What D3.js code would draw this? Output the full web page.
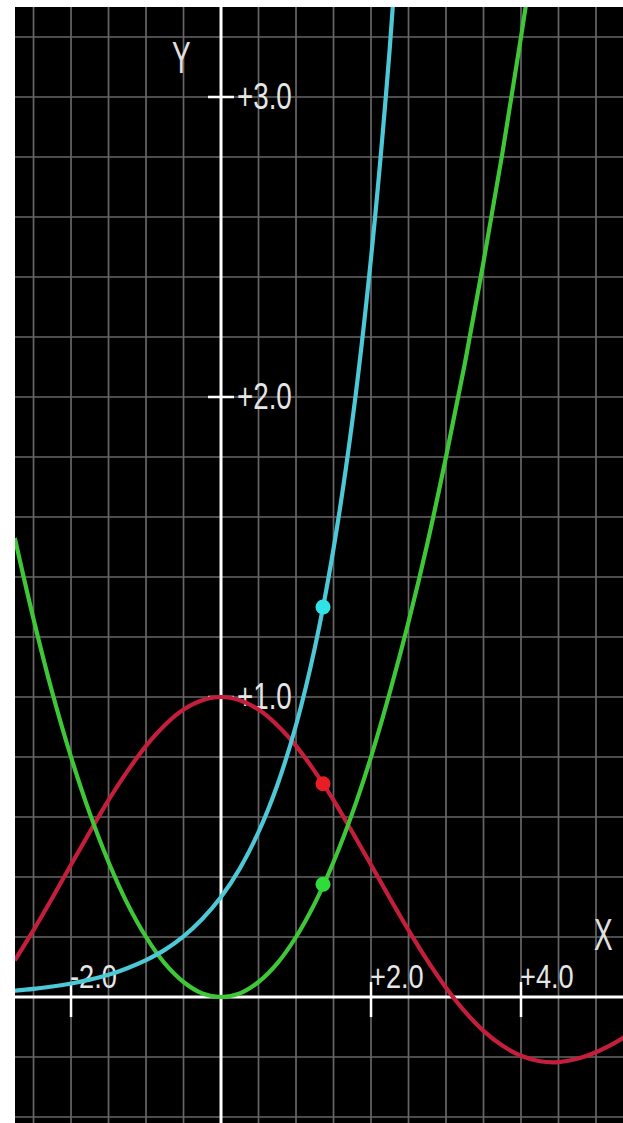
<!DOCTYPE html>
<html><head><meta charset="utf-8">
<script src="https://cdn.jsdelivr.net/npm/d3@7"></script>
<style>html,body{margin:0;padding:0;background:#fff;}svg{display:block;}</style>
</head><body>
<svg id="c" width="623" height="1123"></svg>
<script>
// ---- data ----
const redX = [-2.75,-2.5,-2.25,-2.0,-1.75,-1.5,-1.25,-1.0,-0.75,-0.5,-0.25,0,0.25,0.5,0.75,1.0,1.25,1.5,1.75,2.0,2.25,2.5,2.75,3.0,3.25,3.5,3.75,4.0,4.25,4.5,4.75,5.0,5.25,5.5];
const redY = [0.122,0.223,0.330,0.441,0.550,0.656,0.752,0.837,0.906,0.958,0.989,1.0,0.989,0.958,0.906,0.837,0.752,0.656,0.550,0.441,0.330,0.223,0.122,0.031,-0.048,-0.113,-0.162,-0.196,-0.214,-0.217,-0.206,-0.184,-0.153,-0.115];
const greenX = [-2.75,-2.5,-2.25,-2.0,-1.75,-1.5,-1.25,-1.0,-0.75,-0.5,-0.25,0,0.25,0.5,0.75,1.0,1.25,1.5,1.75,2.0,2.25,2.5,2.75,3.0,3.25,3.5,3.75,4.0,4.25];
const greenY = [1.53,1.26,1.015,0.80,0.612,0.45,0.312,0.20,0.112,0.05,0.012,0,0.012,0.05,0.112,0.20,0.312,0.45,0.612,0.80,1.015,1.25,1.51,1.80,2.11,2.45,2.81,3.20,3.61];
const cyanX = [-2.75,-2.5,-2.25,-2.0,-1.75,-1.5,-1.25,-1.0,-0.75,-0.5,-0.25,0,0.25,0.5,0.75,1.0,1.25,1.5,1.75,2.0,2.25,2.5];
const cyanY = [0.021,0.027,0.035,0.045,0.058,0.074,0.096,0.123,0.157,0.202,0.260,0.333,0.428,0.550,0.706,0.906,1.163,1.494,1.918,2.463,3.163,4.061];
const dotX = [1.36,1.36,1.36];
const dotY = [0.711,0.376,1.30];
const dotNames = ["red","green","cyan"];
const xTickVals = [-2,2,4];
const xTickLabels = ["-2.0","+2.0","+4.0"];
const yTickVals = [1,2,3];
const yTickLabels = ["+1.0","+2.0","+3.0"];

// ---- chart ----
const W = 623, H = 1123;
const L = 15, T = 7;
const svg = d3.select("#c");
const x = d3.scaleLinear().domain([-2.747, 5.36]).range([L, W]);
const y = d3.scaleLinear().domain([-0.42, 3.3]).range([H, T]);

const colors = {red:"#c41e3c", green:"#3ec838", cyan:"#4cc8d6"};
const dotColors = {red:"#e81e24", green:"#2fdc3a", cyan:"#2fe3e6"};

svg.append("defs").append("clipPath").attr("id","clip")
  .append("rect").attr("x",L).attr("y",T).attr("width",W-L).attr("height",H-T);

svg.append("rect").attr("x",L).attr("y",T).attr("width",W-L).attr("height",H-T).attr("fill","#000");

const g = svg.append("g").attr("clip-path","url(#clip)");

// grid
const gx = d3.range(-2.5, 5.01, 0.5);
const gy = d3.range(-0.4, 3.21, 0.2);
g.append("g").selectAll("line").data(gx).join("line")
  .attr("x1", d=>x(d)).attr("x2", d=>x(d)).attr("y1", T).attr("y2", H)
  .attr("stroke","#666").attr("stroke-width",1.7);
g.append("g").selectAll("line").data(gy).join("line")
  .attr("y1", d=>y(d)).attr("y2", d=>y(d)).attr("x1", L).attr("x2", W)
  .attr("stroke","#666").attr("stroke-width",1.7);

// axes
g.append("line").attr("x1",L).attr("x2",W).attr("y1",y(0)).attr("y2",y(0))
  .attr("stroke","#fff").attr("stroke-width",3);
g.append("line").attr("x1",x(0)).attr("x2",x(0)).attr("y1",T).attr("y2",H)
  .attr("stroke","#fff").attr("stroke-width",3);

// ticks
g.append("g").selectAll("line").data(xTickVals).join("line")
  .attr("x1", d=>x(d)).attr("x2", d=>x(d)).attr("y1", y(0)-15).attr("y2", y(0)+20)
  .attr("stroke","#fff").attr("stroke-width",2.5);
g.append("g").selectAll("line").data(yTickVals).join("line")
  .attr("y1", d=>y(d)).attr("y2", d=>y(d)).attr("x1", x(0)-13).attr("x2", x(0)+13)
  .attr("stroke","#fff").attr("stroke-width",2.5);

const font = "Liberation Sans, Arial, sans-serif";
// tick labels
g.append("g").selectAll("text").data(xTickVals).join("text")
  .attr("transform", d=>`translate(${x(d)-1},${y(0)-9}) scale(0.8,1)`)
  .attr("font-family",font).attr("font-size",34).attr("fill","#e6e6e6")
  .text((d,i)=>xTickLabels[i]);
g.append("g").selectAll("text").data(yTickVals).join("text")
  .attr("transform", d=>`translate(${x(0)+16},${y(d)+12}) scale(0.75,1)`)
  .attr("font-family",font).attr("font-size",37).attr("fill","#e6e6e6")
  .text((d,i)=>yTickLabels[i]);

// axis names
g.append("text").attr("transform",`translate(172,73) scale(0.62,1)`)
  .attr("font-family",font).attr("font-size",45).attr("fill","#e0e0e0").text("Y");
g.append("text").attr("transform",`translate(594,950) scale(0.62,1)`)
  .attr("font-family",font).attr("font-size",45).attr("fill","#e0e0e0").text("X");

// curves
const line = d3.line().x(d=>x(d[0])).y(d=>y(d[1])).curve(d3.curveCatmullRom);
const series = [
  {name:"red", xs:redX, ys:redY},
  {name:"green", xs:greenX, ys:greenY},
  {name:"cyan", xs:cyanX, ys:cyanY}
];
series.forEach(s=>{
  g.append("path").attr("d", line(s.xs.map((v,i)=>[v,s.ys[i]])))
    .attr("fill","none").attr("stroke",colors[s.name]).attr("stroke-width",4.2)
    .attr("stroke-linejoin","round");
});

// dots
g.append("g").selectAll("circle").data(dotX).join("circle")
  .attr("cx", d=>x(d)).attr("cy",(d,i)=>y(dotY[i])).attr("r",7.5)
  .attr("fill",(d,i)=>dotColors[dotNames[i]]);
</script>
</body></html>
